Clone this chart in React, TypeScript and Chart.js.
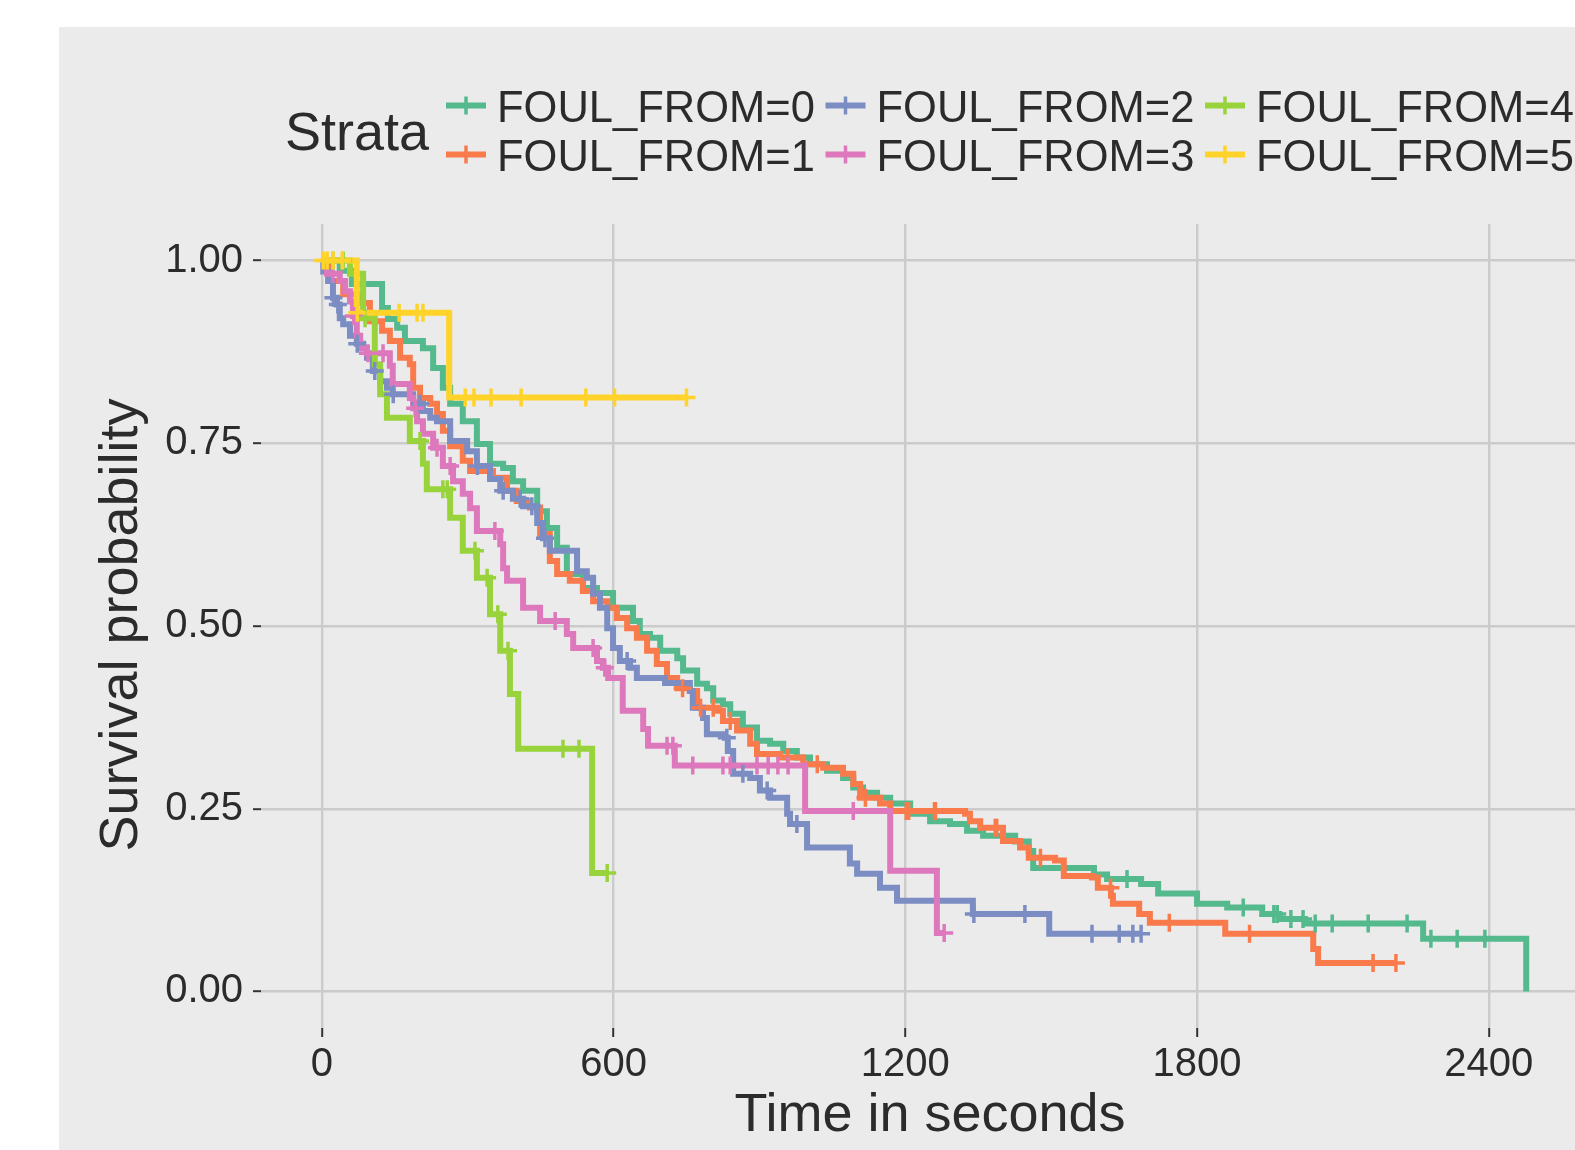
import React, { useEffect, useRef } from "react";
import { Chart, registerables } from "chart.js";

Chart.register(...registerables);

const strataLabels = ["FOUL_FROM=0", "FOUL_FROM=1", "FOUL_FROM=2", "FOUL_FROM=3", "FOUL_FROM=4", "FOUL_FROM=5"];
const strataColors = ["#55B98E", "#F97B4C", "#7B8DC3", "#DE78BC", "#99D33C", "#FFD32A"];
const xTickValues = [0, 600, 1200, 1800, 2400];
const yTickValues = [0, 0.25, 0.5, 0.75, 1];
const legendTitle = "Strata";
const xTitle = "Time in seconds";
const yTitle = "Survival probability";

// FOUL_FROM=0
const times0 = [37, 62, 124, 136, 155, 171, 208, 229, 249, 264, 290, 319, 346, 373, 393, 414, 443, 463, 484, 504, 537, 566, 599, 640, 654, 675, 696, 731, 743, 772, 792, 805, 825, 840, 866, 895, 922, 949, 977, 1004, 1039, 1072, 1093, 1113, 1142, 1169, 1210, 1251, 1292, 1327, 1360, 1426, 1454, 1463, 1588, 1615, 1685, 1720, 1800, 1862, 1934, 1969, 2022, 2265, 2477];
const surv0 = [0.986, 0.968, 0.935, 0.92, 0.908, 0.89, 0.88, 0.853, 0.826, 0.804, 0.78, 0.749, 0.722, 0.716, 0.698, 0.685, 0.657, 0.634, 0.607, 0.571, 0.552, 0.545, 0.525, 0.507, 0.489, 0.484, 0.466, 0.456, 0.439, 0.421, 0.415, 0.398, 0.393, 0.38, 0.361, 0.343, 0.339, 0.329, 0.32, 0.311, 0.302, 0.292, 0.279, 0.272, 0.265, 0.257, 0.243, 0.233, 0.229, 0.22, 0.213, 0.205, 0.192, 0.169, 0.16, 0.154, 0.147, 0.134, 0.12, 0.115, 0.106, 0.099, 0.093, 0.072, 0];
const censor0 = [1656, 1895, 1958, 1965, 1993, 2018, 2043, 2078, 2152, 2232, 2281, 2335, 2392];

// FOUL_FROM=1
const times1 = [17, 44, 79, 99, 124, 140, 161, 181, 188, 202, 223, 237, 249, 264, 290, 305, 352, 381, 401, 428, 449, 469, 484, 510, 537, 558, 587, 607, 628, 648, 669, 689, 710, 731, 757, 772, 813, 825, 854, 881, 895, 942, 990, 1031, 1072, 1093, 1107, 1148, 1169, 1323, 1333, 1354, 1401, 1436, 1454, 1508, 1526, 1584, 1596, 1623, 1627, 1681, 1703, 1858, 2039, 2049];
const surv1 = [0.972, 0.954, 0.942, 0.917, 0.904, 0.89, 0.867, 0.858, 0.826, 0.812, 0.804, 0.79, 0.767, 0.746, 0.726, 0.712, 0.703, 0.685, 0.671, 0.662, 0.626, 0.589, 0.571, 0.562, 0.548, 0.534, 0.525, 0.511, 0.497, 0.484, 0.466, 0.448, 0.429, 0.415, 0.411, 0.388, 0.384, 0.37, 0.357, 0.339, 0.325, 0.32, 0.311, 0.306, 0.298, 0.284, 0.265, 0.257, 0.247, 0.243, 0.233, 0.224, 0.206, 0.197, 0.183, 0.179, 0.158, 0.156, 0.142, 0.131, 0.12, 0.106, 0.094, 0.079, 0.058, 0.039];
const censor1 = [742, 779, 805, 840, 958, 1019, 1118, 1202, 1207, 1260, 1262, 1385, 1388, 1478, 1622, 1743, 1908, 2162, 2209];

// FOUL_FROM=2
const times2 = [3, 13, 23, 31, 37, 44, 58, 72, 85, 93, 105, 120, 134, 146, 188, 208, 223, 237, 264, 299, 319, 346, 367, 393, 414, 443, 455, 469, 525, 545, 558, 572, 587, 599, 613, 634, 648, 706, 757, 763, 784, 792, 829, 835, 846, 881, 901, 922, 957, 963, 998, 1086, 1101, 1148, 1183, 1339, 1496];
const surv2 = [0.985, 0.972, 0.949, 0.94, 0.921, 0.913, 0.897, 0.886, 0.88, 0.867, 0.849, 0.835, 0.826, 0.817, 0.804, 0.794, 0.785, 0.78, 0.753, 0.739, 0.719, 0.701, 0.685, 0.674, 0.664, 0.641, 0.62, 0.603, 0.575, 0.566, 0.544, 0.525, 0.497, 0.47, 0.452, 0.443, 0.429, 0.422, 0.411, 0.388, 0.374, 0.352, 0.347, 0.329, 0.298, 0.292, 0.275, 0.265, 0.243, 0.229, 0.197, 0.175, 0.161, 0.142, 0.124, 0.106, 0.079];
const censor2 = [24, 33, 73, 109, 147, 202, 320, 373, 408, 432, 459, 628, 833, 866, 916, 977, 1341, 1446, 1584, 1640, 1668, 1685];

// FOUL_FROM=3
const times3 = [11, 37, 48, 58, 64, 72, 79, 93, 140, 146, 181, 188, 196, 208, 229, 249, 270, 290, 305, 319, 367, 373, 381, 414, 449, 504, 517, 566, 578, 589, 619, 661, 671, 726, 994, 1169, 1265];
const surv3 = [0.982, 0.972, 0.958, 0.944, 0.924, 0.897, 0.88, 0.873, 0.856, 0.831, 0.812, 0.798, 0.78, 0.763, 0.744, 0.719, 0.698, 0.681, 0.661, 0.63, 0.612, 0.579, 0.562, 0.525, 0.507, 0.489, 0.47, 0.452, 0.443, 0.429, 0.384, 0.359, 0.336, 0.309, 0.247, 0.165, 0.08];
const censor3 = [23, 66, 95, 126, 192, 237, 264, 356, 480, 558, 582, 710, 722, 763, 825, 840, 895, 918, 938, 959, 1093, 1280];

// FOUL_FROM=4
const times4 = [58, 85, 109, 120, 134, 181, 208, 216, 264, 290, 319, 346, 367, 387, 404, 556];
const surv4 = [0.982, 0.921, 0.858, 0.817, 0.785, 0.753, 0.722, 0.687, 0.648, 0.603, 0.566, 0.516, 0.466, 0.407, 0.332, 0.162];
const censor4 = [23, 44, 89, 202, 249, 258, 315, 340, 362, 383, 496, 529, 587];

// FOUL_FROM=5
const times5 = [72, 262];
const surv5 = [0.9286, 0.8125];
const censor5 = [3, 11, 23, 42, 73, 159, 196, 208, 295, 313, 348, 410, 543, 602, 750];

const allTimes = [times0, times1, times2, times3, times4, times5];
const allSurv = [surv0, surv1, surv2, surv3, surv4, surv5];
const allCensor = [censor0, censor1, censor2, censor3, censor4, censor5];

const FONT = '"Liberation Sans", Arial, Helvetica, sans-serif';
const TEXT = "#2b2b2b";
const LINE_W = 6;
const CROSS_W = 3.5;

function survAt(times: number[], surv: number[], t: number) {
  let s = 1;
  for (let i = 0; i < times.length; i++) if (times[i] <= t) s = surv[i];
  return s;
}

function curvePoints(times: number[], surv: number[], censor: number[]) {
  const pts = [{ x: 0, y: 1 }];
  for (let i = 0; i < times.length; i++) pts.push({ x: times[i], y: surv[i] });
  const lastEvent = times[times.length - 1];
  const lastCensor = censor.length ? Math.max(...censor) : 0;
  if (lastCensor > lastEvent) pts.push({ x: lastCensor, y: surv[surv.length - 1] });
  return pts;
}

const decorPlugin = {
  id: "decor",
  beforeDraw(chart: any) {
    const ctx = chart.ctx;
    ctx.save();
    ctx.fillStyle = "#ffffff";
    ctx.fillRect(0, 0, chart.width, chart.height);
    ctx.fillStyle = "#EBEBEB";
    ctx.fillRect(59, 27, chart.width - 59, chart.height - 27);
    ctx.restore();
  },
  afterDraw(chart: any) {
    const ctx = chart.ctx;
    ctx.save();
    ctx.fillStyle = TEXT;
    ctx.textBaseline = "alphabetic";
    // x title
    ctx.font = `54px ${FONT}`;
    ctx.textAlign = "center";
    ctx.fillText(xTitle, 930, 1131);
    // y title
    ctx.save();
    ctx.translate(136.5, 625);
    ctx.rotate(-Math.PI / 2);
    ctx.fillText(yTitle, 0, 0);
    ctx.restore();
    // legend
    ctx.textAlign = "left";
    ctx.font = `54px ${FONT}`;
    ctx.fillText(legendTitle, 285, 150);
    const colX = [497, 876.5, 1256];
    const rowY = [121.5, 170.5];
    ctx.font = `43.5px ${FONT}`;
    strataLabels.forEach((lab, i) => {
      const tx = colX[Math.floor(i / 2)];
      const by = rowY[i % 2];
      const ky = by - 16;
      ctx.strokeStyle = strataColors[i];
      ctx.lineWidth = LINE_W;
      ctx.beginPath();
      ctx.moveTo(tx - 51, ky);
      ctx.lineTo(tx - 11, ky);
      ctx.stroke();
      ctx.lineWidth = CROSS_W;
      ctx.beginPath();
      ctx.moveTo(tx - 31, ky - 9);
      ctx.lineTo(tx - 31, ky + 9);
      ctx.stroke();
      ctx.fillStyle = TEXT;
      ctx.fillText(lab, tx, by);
    });
    ctx.restore();
  },
};

export default function App() {
  const ref = useRef<HTMLCanvasElement | null>(null);
  useEffect(() => {
    if (!ref.current) return;
    const datasets: any[] = [];
    for (let i = 0; i < 6; i++) {
      datasets.push({
        label: strataLabels[i],
        data: curvePoints(allTimes[i], allSurv[i], allCensor[i]),
        borderColor: strataColors[i],
        backgroundColor: strataColors[i],
        borderWidth: LINE_W,
        pointRadius: 0,
        stepped: "before",
        fill: false,
        tension: 0,
        order: 20 - i,
      });
    }
    for (let i = 0; i < 6; i++) {
      datasets.push({
        label: strataLabels[i] + " censored",
        data: allCensor[i].map((t) => ({ x: t, y: survAt(allTimes[i], allSurv[i], t) })),
        showLine: false,
        pointStyle: "cross",
        pointRadius: 9,
        pointBorderWidth: CROSS_W,
        pointBorderColor: strataColors[i],
        pointBackgroundColor: strataColors[i],
        borderColor: strataColors[i],
        order: 10 - i,
      });
    }
    const chart = new Chart(ref.current, {
      type: "line",
      data: { datasets },
      options: {
        animation: false,
        responsive: false,
        devicePixelRatio: 1,
        events: [],
        layout: { autoPadding: false, padding: { top: 224, left: 0, right: 0, bottom: 0 } },
        plugins: { legend: { display: false }, tooltip: { enabled: false } },
        scales: {
          x: {
            type: "linear",
            min: -125,
            max: 2577.3,
            afterBuildTicks: (s: any) => {
              s.ticks = xTickValues.map((v) => ({ value: v }));
            },
            afterFit: (s: any) => {
              s.height = 122;
              s.paddingLeft = 0;
              s.paddingRight = 0;
              s.paddingTop = 0;
              s.paddingBottom = 0;
            },
            border: { display: false },
            grid: {
              color: "#CBCBCB",
              lineWidth: 2.4,
              drawTicks: true,
              tickLength: 9,
              tickColor: "#333333",
              tickWidth: 2,
            },
            ticks: {
              autoSkip: false,
              maxRotation: 0,
              padding: 8,
              color: TEXT,
              font: { family: FONT, size: 40, lineHeight: 1 },
              callback: (v: any) => String(v),
            },
          },
          y: {
            type: "linear",
            min: -0.05,
            max: 1.05,
            afterBuildTicks: (s: any) => {
              s.ticks = yTickValues.map((v) => ({ value: v }));
            },
            afterFit: (s: any) => {
              s.width = 261;
              s.paddingLeft = 0;
              s.paddingRight = 0;
              s.paddingTop = 0;
              s.paddingBottom = 0;
            },
            border: { display: false },
            grid: {
              color: "#CBCBCB",
              lineWidth: 2.4,
              drawTicks: true,
              tickLength: 8,
              tickColor: "#333333",
              tickWidth: 2,
            },
            ticks: {
              padding: 10,
              color: TEXT,
              font: { family: FONT, size: 40, lineHeight: 1 },
              callback: (v: any) => Number(v).toFixed(2),
            },
          },
        },
      },
      plugins: [decorPlugin],
    } as any);
    return () => chart.destroy();
  }, []);
  return (
    <div style={{ position: "fixed", left: 0, top: 0, width: 1575, height: 1150 }}>
      <canvas ref={ref} width={1575} height={1150} style={{ display: "block", width: 1575, height: 1150 }} />
    </div>
  );
}
